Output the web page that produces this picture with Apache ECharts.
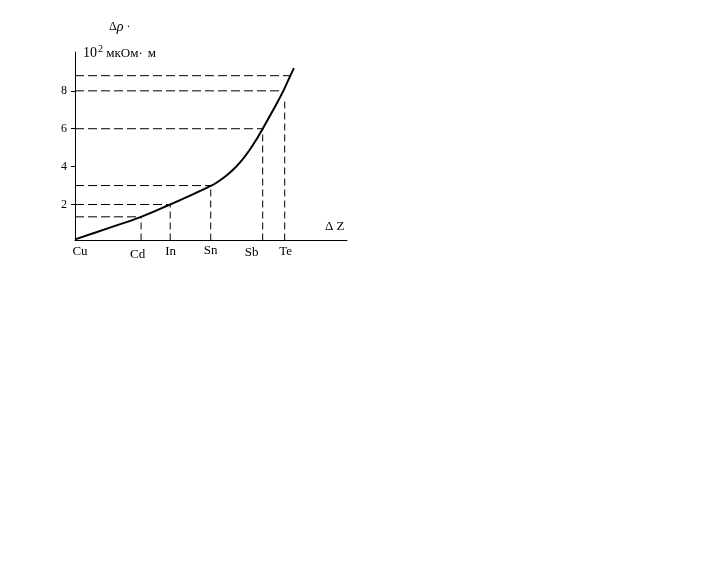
<!DOCTYPE html>
<html>
<head>
<meta charset="utf-8">
<script src="https://cdn.jsdelivr.net/npm/echarts@6/dist/echarts.min.js"></script>
<style>
html,body{margin:0;padding:0;background:#fff;}
#chart{width:705px;height:575px;}
</style>
</head>
<body>
<div id="chart"></div>
<script>
// ---- data ----
const elements   = ['Cu', 'Cd', 'In', 'Sn', 'Sb', 'Te'];
const elementX   = [0, 24.3, 35, 49.9, 69, 77.1];

const curveX   = [0, 12, 24.3, 35, 42.3, 49.9, 52, 55, 58, 61, 64, 67, 69, 72.9, 76.6, 79, 80.5];
const curveRho = [0.16, 0.74, 1.35, 2.0, 2.47, 2.98, 3.15, 3.45, 3.82, 4.28, 4.84, 5.5, 6.0, 7.0, 8.0, 8.75, 9.2];

// horizontal guides: level and x where they meet the curve
const hGuideRho = [1.35, 2, 3, 6, 8, 8.8];
const hGuideX   = [24.3, 35, 49.9, 69, 76.4, 79];
// vertical guides: x and top value
const vGuideX   = [24.3, 35, 49.9, 69, 77.1];
const vGuideRho = [1.35, 2, 3, 6, 7.6];

const yTicks = [2, 4, 6, 8];

// ---- style ----
const FONT = 'Liberation Serif';
const labelOffsets = {Cu:[5,0], Cd:[-3.5,3], In:[0.5,0], Sn:[0,-1], Sb:[-11,1], Te:[1,0]};
const AXIS_MIN_Y = 0.1, AXIS_MAX_Y = 10.05;

const series = [];
hGuideRho.forEach((r, i) => {
  series.push({
    type: 'line', silent: true, symbol: 'none', animation: false,
    data: [[0, r], [hGuideX[i], r]],
    lineStyle: {color: '#000', width: 1, type: [9, 4]}
  });
});
vGuideX.forEach((x, i) => {
  series.push({
    type: 'line', silent: true, symbol: 'none', animation: false,
    data: [[x, AXIS_MIN_Y], [x, vGuideRho[i]]],
    lineStyle: {color: '#000', width: 1, type: [7, 4]}
  });
});
series.push({
  type: 'line', symbol: 'none', smooth: 0.4, animation: false,
  data: curveX.map((x, i) => [x, curveRho[i]]),
  lineStyle: {color: '#000', width: 2}
});
series.push({
  type: 'scatter', symbolSize: 0, animation: false, silent: true,
  itemStyle: {opacity: 1},
  data: elements.map((n, i) => ({
    value: [elementX[i], AXIS_MIN_Y], name: n,
    label: {offset: labelOffsets[n]}
  })),
  label: {
    show: true, position: 'bottom', distance: 5,
    formatter: p => p.name,
    color: '#000', opacity: 1, fontFamily: FONT, fontSize: 13
  }
});

const chart = echarts.init(document.getElementById('chart'), null, {renderer: 'canvas'});
chart.setOption({
  backgroundColor: '#fff',
  animation: false,
  grid: {left: 75, right: 358, top: 52, bottom: 334.5, containLabel: false},
  xAxis: {
    type: 'value', min: 0, max: 100,
    axisLine: {onZero: false, lineStyle: {color: '#000', width: 1}},
    axisTick: {show: false}, axisLabel: {show: false}, splitLine: {show: false}
  },
  yAxis: {
    type: 'value', min: AXIS_MIN_Y, max: AXIS_MAX_Y,
    axisLine: {show: true, onZero: false, lineStyle: {color: '#000', width: 1}},
    axisTick: {show: true, customValues: yTicks, length: 4, lineStyle: {color: '#000'}},
    axisLabel: {show: true, customValues: yTicks, margin: 8, color: '#000', fontFamily: FONT, fontSize: 12},
    splitLine: {show: false}
  },
  graphic: [
    {type: 'text', left: 109, top: 20, style: {
      text: '{a|Δ}{b|ρ}{a| ·}', fill: '#000',
      rich: {
        a: {fontFamily: FONT, fontSize: 12, fill: '#000'},
        b: {fontFamily: FONT, fontSize: 14, fontStyle: 'italic', fill: '#000'}
      }
    }},
    {type: 'text', left: 83, top: 44, style: {
      text: '{n|10}{s|2}{u| мкОм·}{g|}{u|м}', fill: '#000',
      rich: {
        n: {fontFamily: FONT, fontSize: 14, fill: '#000', verticalAlign: 'bottom'},
        s: {fontFamily: FONT, fontSize: 10, fill: '#000', verticalAlign: 'bottom', padding: [0, 0, 6, 1]},
        u: {fontFamily: FONT, fontSize: 13, fill: '#000', verticalAlign: 'bottom'},
        g: {width: 5}
      }
    }},
    {type: 'text', left: 325, top: 220, style: {text: 'Δ Z', font: '13px ' + FONT, fill: '#000'}}
  ],
  series: series
});
</script>
</body>
</html>
